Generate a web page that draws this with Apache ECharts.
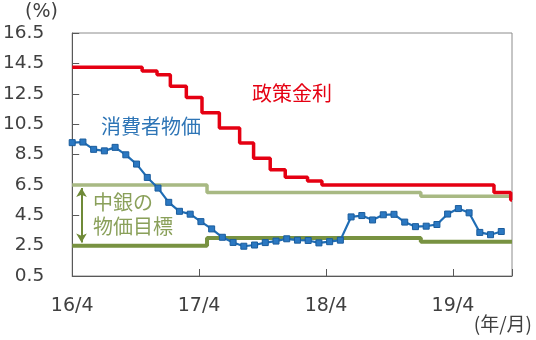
<!DOCTYPE html>
<html><head><meta charset="utf-8">
<script src="https://cdn.jsdelivr.net/npm/echarts@6/dist/echarts.min.js"></script>
<style>html,body{margin:0;padding:0;background:#fff}#c{width:536px;height:340px}</style>
</head><body><div id="c"></div>
<script>
// x tick labels (one per April, axis measured in days from 2016/4)
const xTickLabels = ['16/4', '17/4', '18/4', '19/4'];
// CPI (yoy %), monthly from 2016/4 (index 0) to 2019/8 (index 40)
const cpiMonth = [0,1,2,3,4,5,6,7,8,9,10,11,12,13,14,15,16,17,18,19,20,21,22,23,24,25,26,27,28,29,30,31,32,33,34,35,36,37,38,39,40];
const cpi = [9.28, 9.32, 8.84, 8.74, 8.97, 8.48, 7.87, 6.99, 6.29,
  5.35, 4.76, 4.57, 4.08, 3.60, 3.05, 2.71, 2.46, 2.54, 2.70, 2.80, 2.95,
  2.86, 2.84, 2.68, 2.76, 2.86, 4.39, 4.48, 4.19, 4.53, 4.56, 4.05, 3.75,
  3.78, 3.89, 4.58, 4.94, 4.66, 3.37, 3.22, 3.43];
// Policy rate: month position where each level starts
const rateMonth = [0, 6.52, 7.91, 9.15, 10.64, 12.10, 13.72, 15.61, 16.91, 18.46, 19.86, 21.94, 23.28, 39.32, 40.88, 41];
const rate = [14.25, 14.00, 13.75, 13.00, 12.25, 11.25, 10.25, 9.25, 8.25, 7.50, 7.00, 6.75, 6.50, 6.00, 5.50, 5.50];
// Inflation target band
const targetMonth = [0, 12.57, 32.5, 41];
const targetUpper = [6.5, 6.0, 5.75, 5.75];
const targetLower = [2.5, 3.0, 2.75, 2.75];

const zip = (xs, ys) => xs.map((x, i) => [x, ys[i]]);
const chart = echarts.init(document.getElementById('c'));
const labelFont = 'DejaVu Sans';
const cjk = 'Noto Sans CJK JP';

chart.setOption({
  animation: false,
  grid: { left: 72, right: 24, top: 33, bottom: 64, show: true, borderColor: '#8c8c8c', borderWidth: 1 },
  xAxis: [
    { type: 'value', min: 0, max: 1265, interval: 365, position: 'bottom',
      axisLine: { show: true, lineStyle: { color: '#595959', width: 1 } },
      axisTick: { show: true, inside: true, length: 7, lineStyle: { color: '#595959' } },
      splitLine: { show: false },
      axisLabel: { margin: 21, color: '#404040', fontSize: 19, fontFamily: labelFont,
        formatter: v => { const k = Math.round(v / 365); return (Math.abs(v - k * 365) < 1 && k < xTickLabels.length) ? xTickLabels[k] : ''; } } },
    { type: 'value', min: 0, max: 41, show: false }
  ],
  yAxis: { type: 'value', min: 0.5, max: 16.5, interval: 2,
    axisLine: { show: true, lineStyle: { color: '#595959', width: 1 } },
    axisTick: { show: true, inside: true, length: 7, lineStyle: { color: '#595959' } },
    splitLine: { show: false },
    axisLabel: { margin: 28, color: '#404040', fontSize: 18.5, fontFamily: labelFont, formatter: v => v.toFixed(1) } },
  series: [
    { type: 'line', xAxisIndex: 1, step: 'end', data: zip(targetMonth, targetUpper), showSymbol: false,
      lineStyle: { color: '#a8b983', width: 3.5 } },
    { type: 'line', xAxisIndex: 1, step: 'end', data: zip(targetMonth, targetLower), showSymbol: false,
      lineStyle: { color: '#789241', width: 4 },
      markLine: { silent: true, symbol: ['arrow', 'arrow'], symbolSize: [8, 9], label: { show: false },
        lineStyle: { color: '#6f8a38', width: 2, type: 'solid' },
        data: [[{ coord: [0.87, 6.3] }, { coord: [0.87, 2.7] }]] } },
    { type: 'line', xAxisIndex: 1, data: zip(cpiMonth, cpi), symbol: 'rect', symbolSize: 6,
      lineStyle: { color: '#1f6db5', width: 2.2 },
      itemStyle: { color: '#2b78c2', borderColor: '#1a5c9c', borderWidth: 1 } },
    { type: 'line', xAxisIndex: 1, step: 'end', data: zip(rateMonth, rate), showSymbol: false,
      lineStyle: { color: '#e50012', width: 3.5 } }
  ],
  graphic: [
    { type: 'text', left: 25, top: 3, style: { text: '(%)', font: '19px ' + labelFont, fill: '#404040' } },
    { type: 'text', right: 4, top: 314, style: { text: '(年/月)', font: '19px "' + cjk + '"', fill: '#404040' } },
    { type: 'text', left: 252, top: 83, style: { text: '政策金利', font: '20px "' + cjk + '"', fill: '#e50012' } },
    { type: 'text', left: 101, top: 116, style: { text: '消費者物価', font: '20px "' + cjk + '"', fill: '#2e75b6' } },
    { type: 'text', left: 93, top: 190, style: { text: '中銀の\n物価目標', font: '20px "' + cjk + '"', lineHeight: 24, fill: '#8aa05a' } }
  ]
});
</script></body></html>
